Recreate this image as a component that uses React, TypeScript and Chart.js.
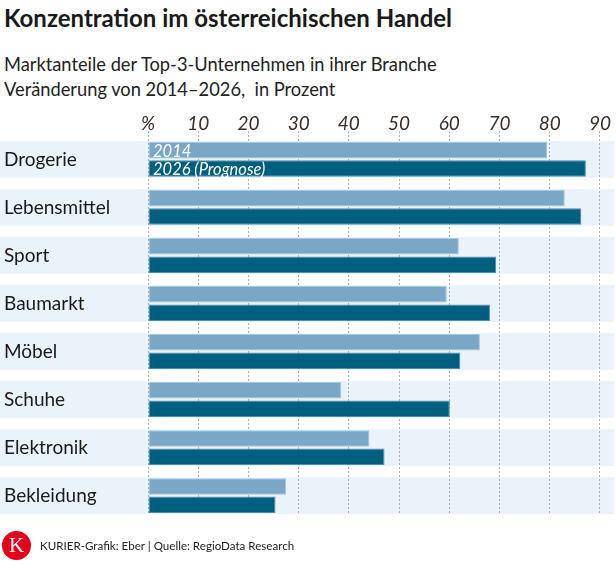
import React, { useEffect, useRef } from "react";
import { Chart, registerables } from "chart.js";

Chart.register(...registerables);

const categories = ["Drogerie", "Lebensmittel", "Sport", "Baumarkt", "Möbel", "Schuhe", "Elektronik", "Bekleidung"];
const values2014 = [79.5, 83.0, 61.9, 59.5, 66.1, 38.5, 44.1, 27.5];
const values2026 = [87.2, 86.3, 69.3, 68.1, 62.2, 60.1, 47.1, 25.4];
const seriesLabels = ["2014", "2026 (Prognose)"];
const tickValues = [0, 10, 20, 30, 40, 50, 60, 70, 80, 90];

const FONT = "Lato, 'DejaVu Sans', sans-serif";
const CAT_PCT = 0.764;

const bandPlugin = {
  id: "bands",
  beforeDraw(chart: any) {
    const { ctx } = chart;
    const y = chart.scales.y;
    const step = Math.abs(y.getPixelForValue(1) - y.getPixelForValue(0));
    const half = (step * CAT_PCT) / 2;
    ctx.save();
    ctx.fillStyle = "#eaf2fa";
    categories.forEach((_, i) => {
      const c = y.getPixelForValue(i);
      ctx.fillRect(0, c - half, 614, half * 2);
    });
    ctx.restore();
  },
  beforeDatasetsDraw(chart: any) {
    // grid lines stop at the bottom of the last band
    const { ctx, chartArea } = chart;
    const y = chart.scales.y;
    const step = Math.abs(y.getPixelForValue(1) - y.getPixelForValue(0));
    const half = (step * CAT_PCT) / 2;
    const bottom = y.getPixelForValue(categories.length - 1) + half;
    ctx.save();
    ctx.fillStyle = "#ffffff";
    ctx.fillRect(0, bottom, chart.width, chartArea.bottom + 2 - bottom);
    ctx.restore();
  },
};

const labelPlugin = {
  id: "barLabels",
  afterDatasetsDraw(chart: any) {
    const { ctx } = chart;
    ctx.save();
    ctx.fillStyle = "#ffffff";
    ctx.font = `italic 16.5px ${FONT}`;
    ctx.textAlign = "left";
    ctx.textBaseline = "middle";
    chart.data.datasets.forEach((ds: any, di: number) => {
      const el = chart.getDatasetMeta(di).data[0];
      if (!el) return;
      ctx.fillText(ds.label, chart.chartArea.left + 5, el.y + 1);
    });
    ctx.restore();
  },
};

function ChartBox() {
  const ref = useRef<HTMLCanvasElement | null>(null);
  useEffect(() => {
    if (!ref.current) return;
    const chart = new Chart(ref.current, {
      type: "bar",
      data: {
        labels: categories,
        datasets: [
          {
            label: seriesLabels[0],
            data: values2014,
            backgroundColor: "#7ba7c7",
            borderColor: "#a9c8de",
            borderWidth: 1,
            borderSkipped: false,
            categoryPercentage: CAT_PCT,
            barPercentage: 0.9,
          },
          {
            label: seriesLabels[1],
            data: values2026,
            backgroundColor: "#005e7e",
            borderColor: "#4f8fa8",
            borderWidth: 1,
            borderSkipped: false,
            categoryPercentage: CAT_PCT,
            barPercentage: 0.9,
          },
        ],
      },
      options: {
        indexAxis: "y",
        animation: false,
        responsive: false,
        maintainAspectRatio: false,
        layout: { padding: { left: 4, right: 1, top: 0, bottom: 0 } },
        plugins: {
          legend: { display: false },
          tooltip: { enabled: false },
          title: { display: false },
        },
        scales: {
          x: {
            type: "linear",
            position: "top",
            min: 0,
            max: 93,
            border: { display: false, dash: [2, 2] },
            grid: {
              color: "#b0b0b0",
              lineWidth: 1,
              tickBorderDash: [2, 2],
              tickLength: 4,
              drawTicks: true,
            },
            afterBuildTicks(scale: any) {
              scale.ticks = tickValues.map((v) => ({ value: v }));
            },
            afterFit(scale: any) {
              scale.height = 35.4;
            },
            ticks: {
              padding: 0,
              color: "#3b2e27",
              font: { family: FONT, size: 19, style: "italic", lineHeight: 0.8 },
              callback: (v: any) => (Number(v) === 0 ? "%" : String(v)),
            },
          },
          y: {
            type: "category",
            border: { display: false },
            grid: { display: false },
            afterFit(scale: any) {
              scale.width = 144;
            },
            ticks: {
              crossAlign: "far",
              color: "#1a1a1a",
              font: { family: FONT, size: 19 },
            },
          },
        },
      },
      plugins: [bandPlugin, labelPlugin],
    });
    return () => chart.destroy();
  }, []);
  return <canvas ref={ref} width={616} height={434} style={{ position: "absolute", left: 0, top: 100, width: 616, height: 434 }} />;
}

export default function App() {
  useEffect(() => {
    document.body.style.margin = "0";
  }, []);
  return (
    <div style={{ position: "relative", width: 616, height: 575, background: "#fff", fontFamily: FONT, color: "#1a1a1a", overflow: "hidden" }}>
      <div style={{ position: "absolute", left: 4, top: 3, fontSize: 24, fontWeight: 700, lineHeight: "30px", whiteSpace: "nowrap" }}>
        Konzentration im österreichischen Handel
      </div>
      <div style={{ position: "absolute", left: 4, top: 52, fontSize: 18.3, lineHeight: "25px", whiteSpace: "nowrap", color: "#222" }}>
        Marktanteile der Top-3-Unternehmen in ihrer Branche
        <br />
        Veränderung von 2014–2026,&nbsp; in Prozent
      </div>
      <ChartBox />
      <div style={{ position: "absolute", left: 2, top: 531, width: 29, height: 29, borderRadius: "50%", background: "#e2001a", color: "#fff", fontFamily: "'Liberation Serif', serif", fontSize: 21, lineHeight: "29px", textAlign: "center" }}>
        K
      </div>
      <div style={{ position: "absolute", left: 40, top: 538, fontSize: 11.6, lineHeight: "16px", whiteSpace: "nowrap", color: "#222" }}>
        KURIER-Grafik: Eber | Quelle: RegioData Research
      </div>
    </div>
  );
}
